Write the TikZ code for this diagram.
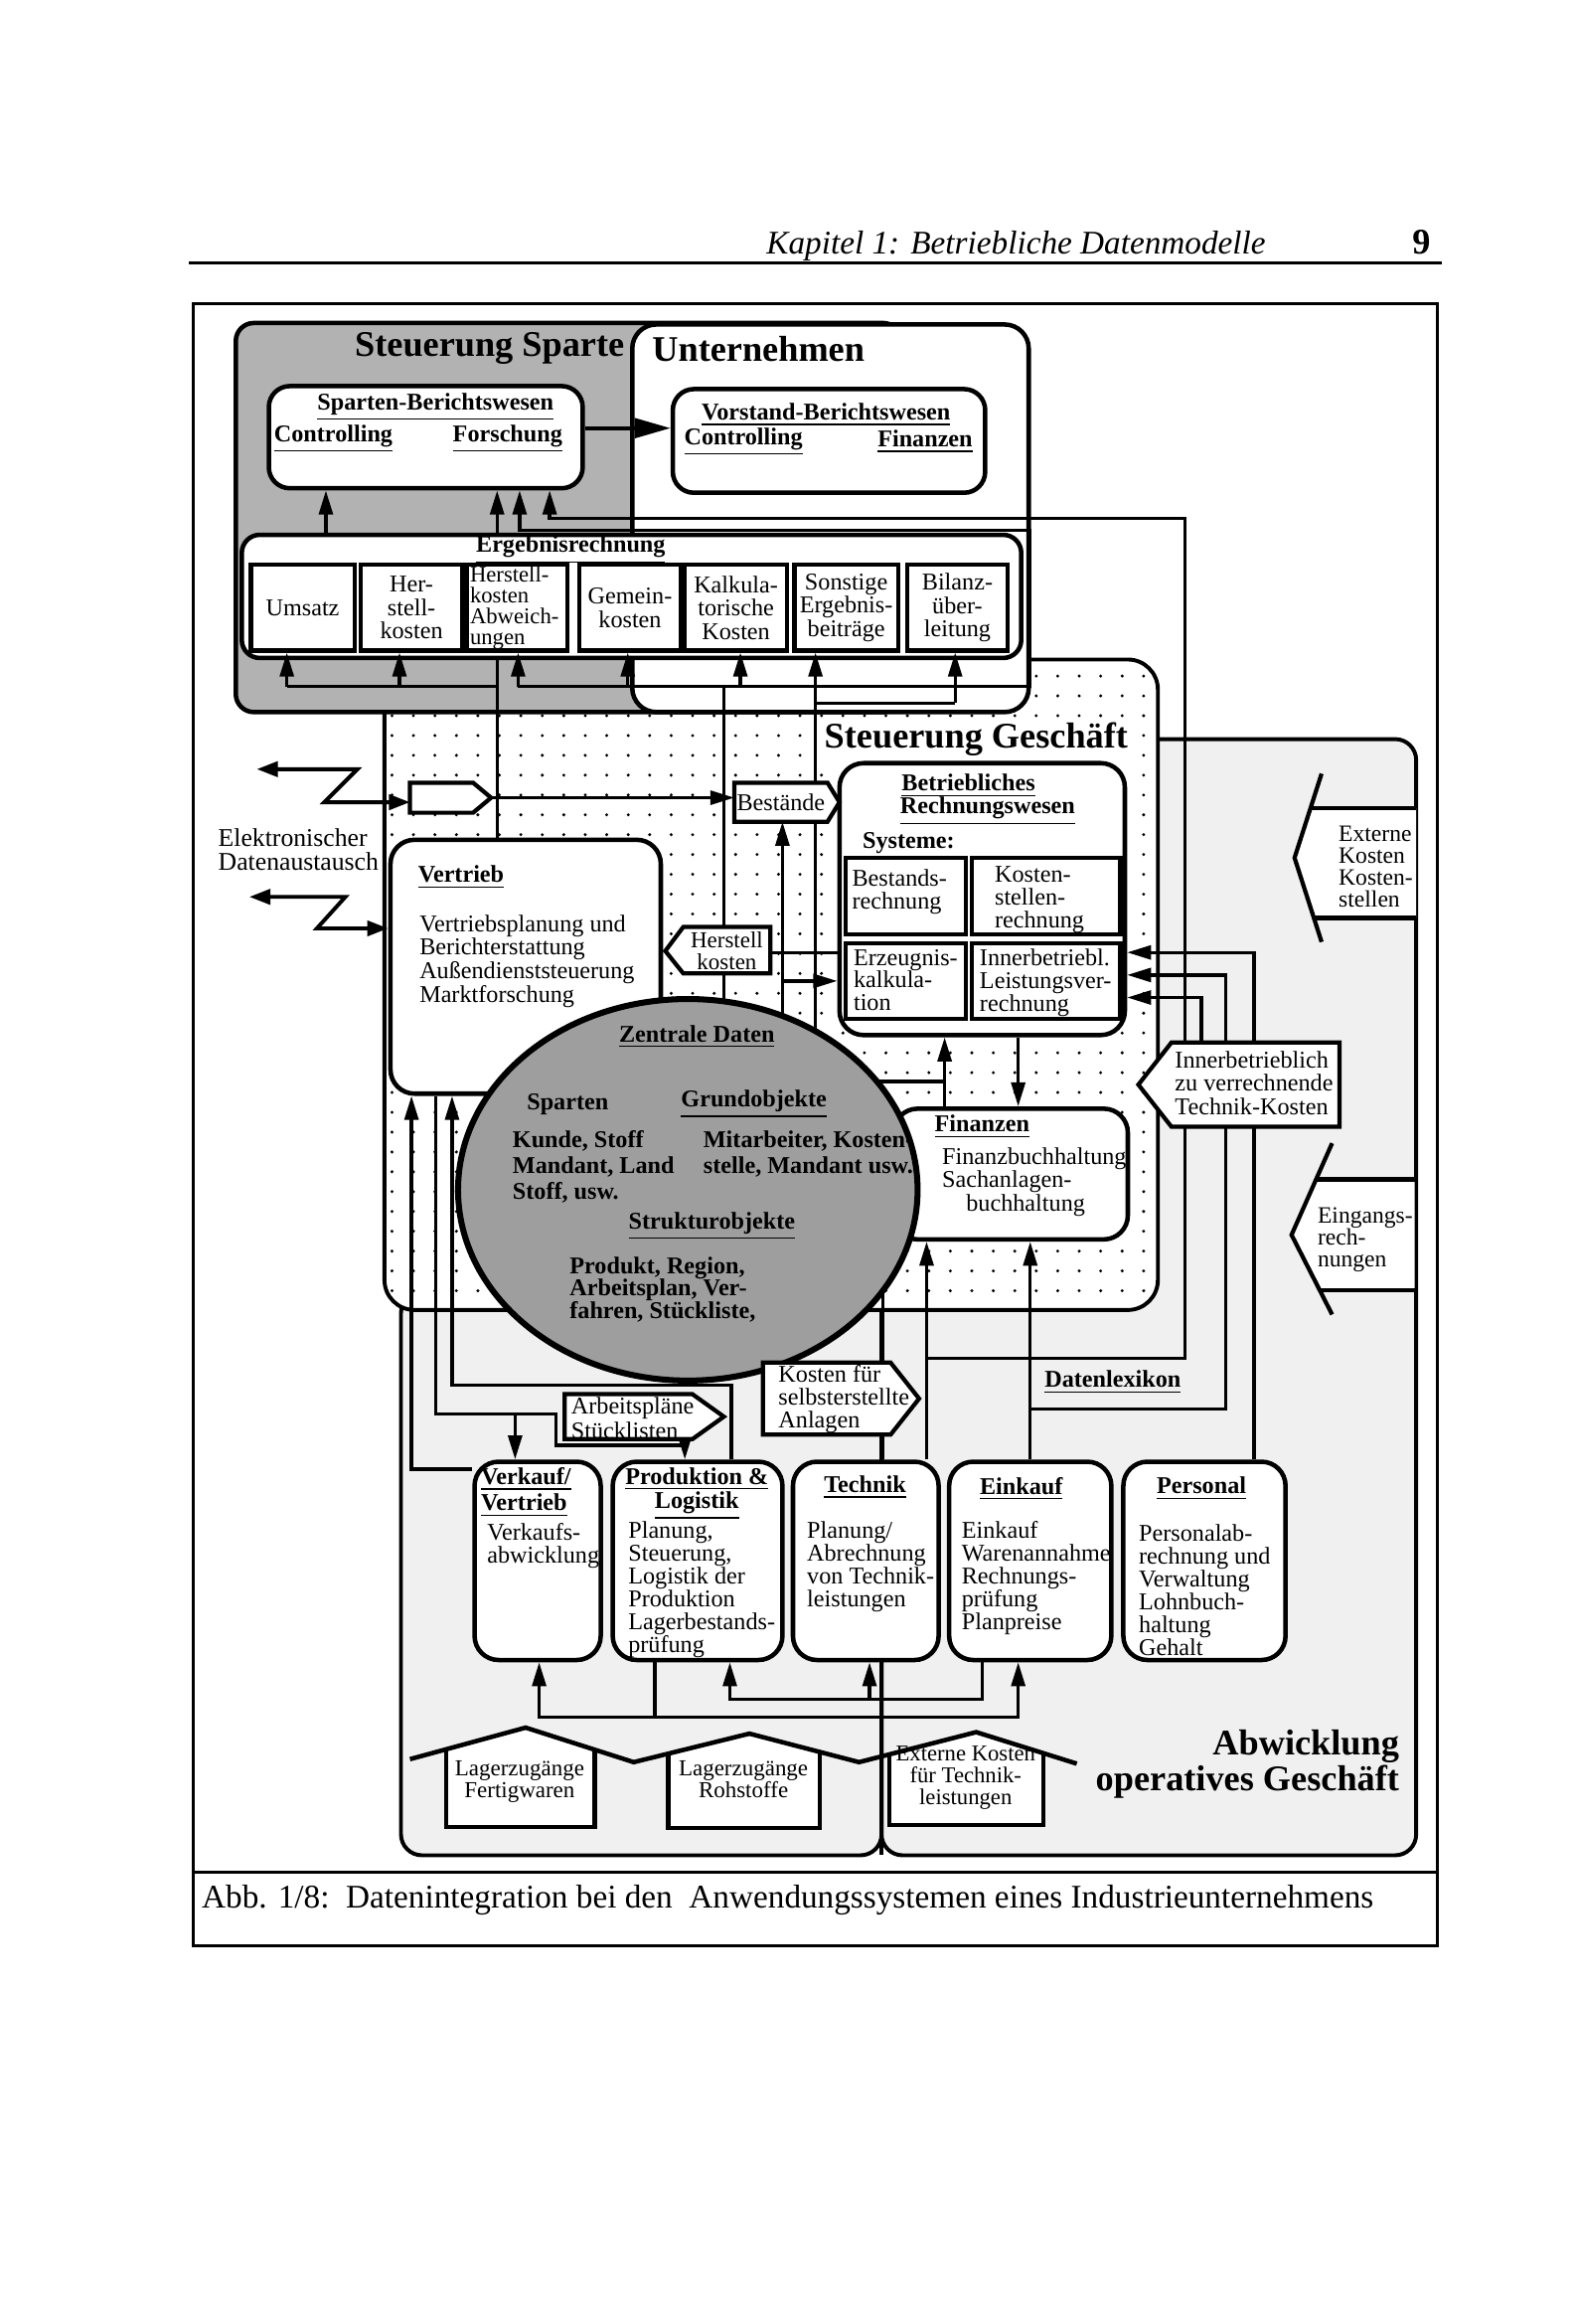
\documentclass[tikz,border=0pt]{standalone}
\usepackage{fontspec}
\setmainfont{Liberation Serif}
\usetikzlibrary{arrows.meta,shapes.geometric,fit}
\pgfdeclarelayer{regions}
\pgfdeclarelayer{lines}
\pgfsetlayers{regions,lines,main}
\begin{document}
\begin{tikzpicture}[x=0.5pt,y=-0.5pt,
  conn/.style={line width=1.1pt},
  arr/.style={line width=1.1pt,-{Triangle[length=8pt,width=4.6pt]}},
  darr/.style={line width=1.3pt,{Triangle[length=7pt,width=5pt]}-{Triangle[length=7pt,width=5pt]}},
  bigarr/.style={line width=1.3pt,-{Triangle[length=12pt,width=6.5pt]}},
  rbox/.style={draw,line width=1.5pt,fill=white,rounded corners=7pt,inner sep=0pt},
  sbox/.style={draw,line width=1.4pt,fill=white,inner sep=0pt},
  pent/.style={draw,line width=1.4pt,fill=white},
  txt/.style={font=\fontsize{8}{7.8}\selectfont,inner sep=0pt,align=left},
  btxt/.style={font=\fontsize{8}{7.8}\selectfont\bfseries,inner sep=0pt,align=left},
  titl/.style={font=\fontsize{12}{10.5}\selectfont\bfseries,inner sep=0pt,align=left},
  region/.style={draw,line width=1.3pt},
]
\useasboundingbox (0,0) rectangle (1050,1547);
% ---------- page ----------
\node[font=\fontsize{11}{11}\selectfont\itshape,anchor=base west,inner sep=0pt] (hdr) at (510,169) {Kapitel 1: Betriebliche Datenmodelle};
\node[font=\fontsize{12}{12}\selectfont\bfseries,anchor=base west,inner sep=0pt] (pgno) at (940,169) {9};
\draw[line width=1.3pt] (126,175) -- (960,175);
\draw[line width=1pt] (129,202) rectangle (957,1295);
\draw[line width=1pt] (129,1246) -- (957,1246);
\node[font=\fontsize{11}{11}\selectfont,anchor=base west,inner sep=0pt] (cap) at (134,1270) {Abb. 1/8:\ \ Datenintegration bei den\ \ Anwendungssystemen eines Industrieunternehmens};

% ---------- regions ----------
\begin{pgfonlayer}{regions}
\draw[region,fill=black!6,rounded corners=7pt] (587,492) rectangle (943,1235);
\draw[region,fill=black!6,rounded corners=7pt] (267,860) rectangle (587,1235);
\fill[white,rounded corners=10pt] (256,439) rectangle (771,872);
\begin{scope}
\clip[rounded corners=10pt] (256,439) rectangle (771,872);
\foreach \i in {0,...,35}{\foreach \j in {0,...,32}{\fill (261+\i*14.3,450+\j*13.2) circle (0.55pt);}}
\end{scope}
\draw[region,rounded corners=10pt] (256,439) rectangle (771,872);
\draw[region,line width=1.5pt,fill=black!30,rounded corners=6pt] (157,215) rectangle (600,474);
\draw[region,line width=1.5pt,fill=white,rounded corners=8pt] (421,216) rectangle (685,474);
\end{pgfonlayer}

\node[titl] (tsp) at (326,232) {Steuerung Sparte};
\node[titl] (tun) at (505,232) {Unternehmen};

% ---------- Sparten / Vorstand ----------
\node[rbox,fit={(179,257) (388,325)}] (spb) {};
\node[btxt] (spbt) at (290,271) {\underline{Sparten-Berichtswesen}};
\node[btxt] (spbc) at (222,292) {\underline{Controlling}};
\node[btxt] (spbf) at (338,292) {\underline{Forschung}};
\node[rbox,fit={(448,259) (656,328)}] (vob) {};
\node[btxt] (vobt) at (550,276) {\underline{Vorstand-Berichtswesen}};
\node[btxt] (vobc) at (495,294) {\underline{Controlling}};
\node[btxt] (vobf) at (616,294) {\underline{Finanzen}};

% ---------- Ergebnisrechnung ----------
\node[rbox,rounded corners=6pt,fit={(161,356) (680,438)}] (erg) {};
\node[btxt] (ergt) at (380,366) {\underline{Ergebnisrechnung}};
\node[sbox,fit={(167,376) (236,433)}] (e1) {};
\node[sbox,fit={(240,376) (308,433)}] (e2) {};
\node[sbox,fit={(311,376) (378,433)}] (e3) {};
\node[sbox,fit={(386,376) (453,433)}] (e4) {};
\node[sbox,fit={(456,376) (524,433)}] (e5) {};
\node[sbox,fit={(529,376) (598,433)}] (e6) {};
\node[sbox,fit={(604,376) (671,433)}] (e7) {};
\node[txt,align=center] (e1t) at (e1) {Umsatz};
\node[txt,align=center] (e2t) at (e2) {Her-\\stell-\\kosten};
\node[font=\fontsize{7.5}{7}\selectfont,inner sep=0pt,align=left,anchor=west] (e3t) at ([xshift=1.5pt]e3.west) {Herstell-\\kosten\\Abweich-\\ungen};
\node[txt,align=center] (e4t) at (e4) {Gemein-\\kosten};
\node[txt,align=center] (e5t) at (e5) {Kalkula-\\torische\\Kosten};
\node[txt,align=center] (e6t) at (e6) {Sonstige\\Ergebnis-\\beiträge};
\node[txt,align=center] (e7t) at (e7) {Bilanz-\\über-\\leitung};
\draw[arr] (191,457) -- (191,0 |- e1.south);
\draw[arr] (266,457) -- (266,0 |- e2.south);
\draw[arr] (345,457) -- (345,0 |- e3.south);
\draw[arr] (418,457) -- (418,0 |- e4.south);
\draw[arr] (493,457) -- (493,0 |- e5.south);
\draw[arr] (543,468) -- (543,0 |- e6.south);
\draw[arr] (636,468) -- (636,0 |- e7.south);

% ---------- Steuerung Geschaeft ----------
\node[titl,fill=white,inner sep=1.5pt] (sgt) at (650,492) {Steuerung Geschäft};
\node[txt,anchor=north west,font=\fontsize{8.5}{8}\selectfont] (edt) at (145,551) {Elektronischer\\Datenaustausch};

\node[rbox,rounded corners=8pt,fit={(260,559) (440,728)}] (vtr) {};
\node[btxt,anchor=west] (vtrt) at (278,584) {\underline{Vertrieb}};
\node[txt,anchor=north west,font=\fontsize{8}{7.9}\selectfont] (vtrb) at (279,608.5) {Vertriebsplanung und\\Berichterstattung\\Außendienststeuerung\\Marktforschung};

\node[rbox,rounded corners=8pt,fit={(559,508) (749,689)}] (brw) {};
\node[btxt,anchor=west] (brwt1) at (600,523) {\underline{Betriebliches}};
\node[btxt,anchor=west] (brwt2) at (599,540) {\underline{Rechnungswesen}};
\node[btxt,anchor=west] (sys) at (574,561) {Systeme:};
\node[sbox,fit={(563,571) (643,622)}] (bst) {};
\node[sbox,fit={(647,571) (746,622)}] (kst) {};
\node[sbox,fit={(563,628) (643,678)}] (erz) {};
\node[sbox,fit={(647,628) (746,678)}] (ilv) {};
\node[txt,anchor=north west,font=\fontsize{8}{7.5}\selectfont] (bstt) at (567,578.5) {Bestands-\\rechnung};
\node[txt,anchor=north west,font=\fontsize{8}{7.5}\selectfont] (kstt) at (662,576.5) {Kosten-\\stellen-\\rechnung};
\node[txt,anchor=north west,font=\fontsize{8}{7.5}\selectfont] (erzt) at (568,631.5) {Erzeugnis-\\kalkula-\\tion};
\node[txt,anchor=north west,font=\fontsize{8}{7.5}\selectfont] (ilvt) at (652,631.5) {Innerbetriebl.\\Leistungsver-\\rechnung};

\node[rbox,rounded corners=8pt,fit={(595,738) (751,825)}] (fin) {};

% ---------- Zentrale Daten ----------
\node[ellipse,draw,line width=2pt,fill=black!38,minimum width=153pt,minimum height=127pt,inner sep=0pt] (circ) at (458,792) {};
\node[btxt] (zdt) at (464,690) {\underline{Zentrale Daten}};
\node[btxt] (zsp) at (378,735) {Sparten};
\node[btxt] (zgo) at (502,735) {\underline{Grundobjekte}};
\node[btxt,anchor=north west,font=\fontsize{8}{8.5}\selectfont\bfseries] (zl) at (341,752.5) {Kunde, Stoff\\Mandant, Land\\Stoff, usw.};
\node[btxt,anchor=north west,font=\fontsize{8}{8.5}\selectfont\bfseries] (zr) at (468,752.5) {Mitarbeiter, Kosten-\\stelle, Mandant usw.};
\node[btxt] (zst) at (474,816) {\underline{Strukturobjekte}};
\node[btxt,anchor=north west,font=\fontsize{8}{7.4}\selectfont\bfseries] (zp) at (379,836.5) {Produkt, Region,\\Arbeitsplan, Ver-\\fahren, Stückliste,};

\node[btxt,anchor=west] (fint) at (622,750) {\underline{Finanzen}};
\node[txt,anchor=north west,font=\fontsize{8}{7.75}\selectfont] (finb) at (627,763.5) {Finanzbuchhaltung\\Sachanlagen-\\\hspace*{8pt}buchhaltung};

% ---------- label arrows (pentagons) ----------
\draw[pent] (273,521) -- (315,521) -- (327,531) -- (315,541) -- (273,541) -- cycle;
\coordinate (edil) at (273,534);
\coordinate (edir) at (327,531);
\draw[pent] (489,521) -- (551,521) -- (559,534) -- (551,547) -- (489,547) -- cycle;
\node[txt] (bestt) at (520,534) {Bestände};
\coordinate (bestl) at (489,531);
\coordinate (bestb) at (521,547);
\draw[pent] (455,617) -- (513,617) -- (513,648) -- (455,648) -- (443,633) -- cycle;
\node[txt,align=center,font=\fontsize{7.6}{7.2}\selectfont] (hkt) at (484,633) {Herstell\\kosten};
\coordinate (hkr) at (513,634);
\draw[pent] (508,907) -- (593,907) -- (612,931) -- (593,955) -- (508,955) -- cycle;
\node[txt,anchor=north west,font=\fontsize{8}{7.5}\selectfont] (kft) at (518,908.5) {Kosten für\\selbsterstellte\\Anlagen};
\draw[pent] (376,928) -- (461,928) -- (482,943) -- (461,958) -- (376,958) -- cycle;
\node[txt,anchor=north west,font=\fontsize{8}{8.2}\selectfont] (apt) at (380,930) {Arbeitspläne\\Stücklisten};
\draw[pent] (780,694) -- (892,694) -- (892,750) -- (780,750) -- (758,722) -- cycle;
\node[txt,anchor=north west,font=\fontsize{8}{7.75}\selectfont] (ibt) at (782,699.5) {Innerbetrieblich\\zu verrechnende\\Technik-Kosten};
\coordinate (ibtop) at (800,694);

\fill[white] (873,538) -- (943,538) -- (943,611) -- (875,611) -- (862,571) -- cycle;
\draw[line width=1.4pt] (880,515) -- (862,571) -- (880,627);
\draw[line width=1.4pt] (873,538) -- (943,538) (875,611) -- (943,611);
\node[txt,anchor=north west,font=\fontsize{7.8}{7.3}\selectfont] (ekk) at (891,549.5) {Externe\\Kosten\\Kosten-\\stellen};
\fill[white] (876,785) -- (942,785) -- (942,859) -- (879,859) -- (860,822) -- cycle;
\draw[line width=1.4pt] (887,761) -- (860,822) -- (887,875);
\draw[line width=1.4pt] (876,785) -- (942,785) (879,859) -- (942,859);
\node[txt,anchor=north west,font=\fontsize{7.8}{7.3}\selectfont] (ert) at (877,803.5) {Eingangs-\\rech-\\nungen};

\node[btxt] (dlx) at (741,920) {\underline{Datenlexikon}};

% ---------- operative boxes ----------
\node[rbox,rounded corners=8pt,fit={(316,973) (400,1105)}] (vk) {};
\node[rbox,rounded corners=8pt,fit={(408,973) (521,1105)}] (pl) {};
\node[rbox,rounded corners=8pt,fit={(528,973) (625,1105)}] (te) {};
\node[rbox,rounded corners=8pt,fit={(632,973) (740,1105)}] (ek) {};
\node[rbox,rounded corners=8pt,fit={(748,973) (856,1105)}] (pe) {};
\node[btxt,anchor=north west,font=\fontsize{8}{7.5}\selectfont\bfseries] (vkt) at (320,976.5) {\underline{Verkauf/}\\\underline{Vertrieb}};
\node[txt,anchor=north west,font=\fontsize{8}{7.5}\selectfont] (vkb) at (324,1013.5) {Verkaufs-\\abwicklung};
\node[btxt,anchor=north,align=center,font=\fontsize{8}{8}\selectfont\bfseries] (plt) at (464,976.5) {\underline{Produktion \&}\\\underline{Logistik}};
\node[txt,anchor=north west,font=\fontsize{8}{7.6}\selectfont] (plb) at (418,1012.5) {Planung,\\Steuerung,\\Logistik der\\Produktion\\Lagerbestands-\\prüfung};
\node[btxt] (tet) at (576,990) {\underline{Technik}};
\node[txt,anchor=north west,font=\fontsize{8}{7.6}\selectfont] (teb) at (537,1012.5) {Planung/\\Abrechnung\\von Technik-\\leistungen};
\node[btxt] (ekt) at (680,991) {\underline{Einkauf}};
\node[txt,anchor=north west,font=\fontsize{8}{7.6}\selectfont] (ekb) at (640,1012.5) {Einkauf\\Warenannahme\\Rechnungs-\\prüfung\\Planpreise};
\node[btxt] (pet) at (800,991) {\underline{Personal}};
\node[txt,anchor=north west,font=\fontsize{8}{7.6}\selectfont] (peb) at (758,1014.5) {Personalab-\\rechnung und\\Verwaltung\\Lohnbuch-\\haltung\\Gehalt};

% ---------- houses ----------
\fill[white] (297,1164.5) -- (350,1150) -- (396,1164.7) -- (396,1216) -- (297,1216) -- cycle;
\fill[white] (445,1167.3) -- (499,1154) -- (546,1166.2) -- (546,1217) -- (445,1217) -- cycle;
\fill[white] (592,1167.9) -- (650,1153) -- (695,1167.1) -- (695,1215) -- (592,1215) -- cycle;
\draw[line width=1.5pt] (273,1171) -- (350,1150) -- (422,1173) -- (499,1154) -- (572,1173) -- (650,1153) -- (717,1174);
\draw[line width=1.4pt] (297,1164.5) -- (297,1216) -- (396,1216) -- (396,1164.7);
\draw[line width=1.4pt] (445,1167.3) -- (445,1217) -- (546,1217) -- (546,1166.2);
\draw[line width=1.4pt] (592,1167.9) -- (592,1215) -- (695,1215) -- (695,1167.1);
\node[txt,anchor=north,align=center,font=\fontsize{7.6}{7}\selectfont] (h1t) at (346,1172) {Lagerzugänge\\Fertigwaren};
\node[txt,anchor=north,align=center,font=\fontsize{7.6}{7}\selectfont] (h2t) at (495,1172) {Lagerzugänge\\Rohstoffe};
\node[txt,anchor=north,align=center,font=\fontsize{7.5}{7.2}\selectfont] (h3t) at (643,1162) {Externe Kosten\\für Technik-\\leistungen};

\node[titl,align=right,anchor=north east] (abw) at (932,1151) {Abwicklung\\operatives Geschäft};

% ---------- connectors ----------
\begin{pgfonlayer}{lines}
\draw[bigarr] (spb.east |- 0,285) -- (vob.west |- 0,285);
\draw[arr] (217,0 |- erg.north) -- (217,0 |- spb.south);
\draw[arr] (331,0 |- erg.north) -- (331,0 |- spb.south);
\draw[conn] (331,0 |- vtr.north) -- (331,0 |- erg.south);
\draw[conn] (331,457) -- (191,457);
\draw[conn] (482,0 |- circ.center) -- (482,457);
\draw[arr] (345,457) -- (686,457) -- (686,353) -- (346,353) -- (346,0 |- spb.south);
\draw[conn] (543,0 |- circ.center) -- (543,468) -- (636,468);
\draw[arr] (617,904) -- (789,904) -- (789,345) -- (366,345) -- (366,0 |- spb.south);
\draw[darr] (171,512) -- (238,512) -- (216,534) -- (edil);
\draw[darr] (166,597) -- (230,597) -- (211,618) -- (vtr.west |- 0,618);
\draw[arr] (edir) -- (bestl);
\draw[arr] (521,0 |- circ.center) -- (bestb);
\draw[arr] (521,653) -- (brw.west |- 0,653);
\draw[conn] (brw.west |- 0,634) -- (hkr);
\draw[conn] (circ.center |- 0,720) -- (629,720);
\draw[arr] (629,0 |- fin.north) -- (629,0 |- brw.south);
\draw[arr] (678,0 |- brw.south) -- (678,0 |- fin.north);
\draw[arr] (617,0 |- te.north) -- (617,0 |- fin.south);
\draw[arr] (686,0 |- ek.north) -- (686,0 |- fin.south);
\draw[arr] (686,938) -- (816,938) -- (816,649) -- (brw.east |- 0,649);
\draw[arr] (835,0 |- pe.north) -- (835,634) -- (brw.east |- 0,634);
\draw[arr] (ibtop) -- (800,664) -- (brw.east |- 0,664);
\draw[conn] (588,0 |- te.north) -- (588,0 |- circ.center);
\draw[arr] (vk.west |- 0,978) -- (274,978) -- (274,0 |- vtr.south);
\draw[arr] (290,0 |- vtr.south) -- (290,941) -- (370,941) -- (370,962) -- (456,962) -- (456,0 |- pl.north);
\draw[arr] (343,941) -- (343,0 |- vk.north);
\draw[arr] (487,0 |- pl.north) -- (487,922) -- (301,922) -- (301,0 |- vtr.south);
\draw[arr] (436,0 |- pl.south) -- (436,1143) -- (359,1143) -- (359,0 |- vk.south);
\draw[arr] (436,1143) -- (678,1143) -- (678,0 |- ek.south);
\draw[arr] (654,0 |- ek.south) -- (654,1131) -- (486,1131) -- (486,0 |- pl.south);
\draw[arr] (579,1131) -- (579,0 |- te.south);
\draw[conn] (587,0 |- te.south) -- (587,1235);
\end{pgfonlayer}
\end{tikzpicture}
\end{document}
